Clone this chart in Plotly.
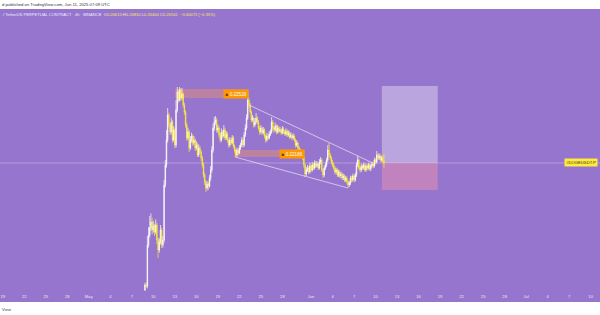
import plotly.graph_objects as go
import pandas as pd

# ---------------- data (4h candles, price) ----------------
first_open = 0.1673
close = [
0.1688,0.1685,0.1808,0.1838,0.1859,0.1877,0.1853,0.1865,0.1847,0.1868,
0.1823,0.1793,0.1817,0.1853,0.1808,0.1823,0.1988,0.2048,0.2123,0.2198,
0.2168,0.2147,0.2177,0.2123,0.2153,0.2108,0.2213,0.2267,0.2243,0.2273,
0.2249,0.2261,0.2228,0.2207,0.2168,0.2129,0.2147,0.2099,0.2123,0.2135,
0.2114,0.2123,0.2099,0.2108,0.2078,0.2099,0.2087,0.2069,0.2048,0.2018,
0.1997,0.1979,0.1991,0.1985,0.2009,0.2033,0.2093,0.2159,0.2177,0.2183,
0.2153,0.2159,0.2138,0.2123,0.2147,0.2135,0.2153,0.2129,0.2141,0.2123,
0.2108,0.2123,0.2114,0.2129,0.2105,0.2093,0.2078,0.2093,0.2084,0.2099,
0.2108,0.2123,0.2108,0.2138,0.2159,0.2189,0.2243,0.2228,0.2207,0.2183,
0.2189,0.2168,0.2177,0.2189,0.2177,0.2159,0.2147,0.2159,0.2144,0.2153,
0.2135,0.2123,0.2135,0.2129,0.2141,0.2147,0.2177,0.2159,0.2153,0.2165,
0.2147,0.2159,0.2150,0.2153,0.2144,0.2156,0.2147,0.2141,0.2150,0.2138,
0.2144,0.2132,0.2138,0.2129,0.2135,0.2123,0.2108,0.2114,0.2099,0.2093,
0.2078,0.2084,0.2069,0.2048,0.2021,0.2033,0.2039,0.2027,0.2045,0.2033,
0.2048,0.2039,0.2054,0.2045,0.2051,0.2039,0.2057,0.2063,0.2033,0.2018,
0.2039,0.2048,0.2063,0.2093,0.2078,0.2069,0.2057,0.2048,0.2039,0.2027,
0.2033,0.2018,0.2027,0.2015,0.2021,0.2009,0.2015,0.2003,0.2009,0.1997,
0.1988,0.1994,0.2009,0.2003,0.2015,0.2003,0.2018,0.2048,0.2063,0.2039,
0.2033,0.2045,0.2039,0.2048,0.2033,0.2045,0.2039,0.2048,0.2036,0.2045,
0.2051,0.2045,0.2063,0.2057,0.2078,0.2069,0.2075,0.2063,0.2069,0.20615,
0.20541]
high = [
0.1694,0.1697,0.1835,0.1862,0.1895,0.1903,0.1890,0.1880,0.1872,0.1885,
0.1875,0.1830,0.1828,0.1868,0.1860,0.1835,0.2003,0.2063,0.2153,0.2219,
0.2205,0.2175,0.2190,0.2183,0.2165,0.2160,0.2243,0.2282,0.2275,0.2282,
0.2279,0.2279,0.2266,0.2235,0.2212,0.2175,0.2160,0.2153,0.2135,0.2145,
0.2140,0.2135,0.2128,0.2120,0.2115,0.2110,0.2105,0.2093,0.2075,0.2055,
0.2025,0.2003,0.2000,0.1998,0.2018,0.2045,0.2105,0.2172,0.2192,0.2195,
0.2190,0.2170,0.2165,0.2145,0.2158,0.2152,0.2168,0.2160,0.2150,0.2147,
0.2128,0.2132,0.2130,0.2138,0.2135,0.2110,0.2098,0.2100,0.2098,0.2108,
0.2115,0.2132,0.2128,0.2147,0.2170,0.2200,0.2264,0.2250,0.2235,0.2212,
0.2198,0.2193,0.2188,0.2204,0.2195,0.2183,0.2165,0.2168,0.2163,0.2162,
0.2158,0.2140,0.2145,0.2142,0.2150,0.2155,0.2192,0.2183,0.2165,0.2175,
0.2170,0.2168,0.2165,0.2162,0.2158,0.2165,0.2162,0.2153,0.2158,0.2155,
0.2152,0.2150,0.2146,0.2143,0.2143,0.2140,0.2128,0.2122,0.2118,0.2105,
0.2098,0.2092,0.2088,0.2075,0.2053,0.2042,0.2048,0.2045,0.2055,0.2050,
0.2057,0.2054,0.2062,0.2060,0.2060,0.2055,0.2066,0.2072,0.2068,0.2038,
0.2046,0.2056,0.2070,0.2108,0.2114,0.2084,0.2075,0.2063,0.2054,0.2045,
0.2040,0.2038,0.2034,0.2032,0.2028,0.2026,0.2022,0.2020,0.2016,0.2014,
0.2002,0.2000,0.2016,0.2015,0.2022,0.2020,0.2025,0.2056,0.2075,0.2068,
0.2045,0.2052,0.2050,0.2055,0.2053,0.2052,0.2050,0.2055,0.2053,0.2052,
0.2058,0.2056,0.2070,0.2068,0.2090,0.2084,0.2083,0.2080,0.2076,0.2075,
0.2081]
low = [
0.1670,0.1680,0.1678,0.1800,0.1830,0.1850,0.1840,0.1845,0.1835,0.1840,
0.1810,0.1769,0.1785,0.1810,0.1799,0.1800,0.1815,0.1980,0.2040,0.2115,
0.2160,0.2138,0.2140,0.2115,0.2118,0.2099,0.2100,0.2205,0.2235,0.2238,
0.2240,0.2243,0.2220,0.2198,0.2160,0.2120,0.2123,0.2087,0.2093,0.2115,
0.2105,0.2108,0.2090,0.2093,0.2072,0.2072,0.2080,0.2060,0.2040,0.2010,
0.1988,0.1967,0.1972,0.1973,0.1980,0.2000,0.2025,0.2085,0.2150,0.2168,
0.2145,0.2145,0.2130,0.2115,0.2118,0.2128,0.2130,0.2122,0.2123,0.2115,
0.2100,0.2102,0.2108,0.2110,0.2099,0.2085,0.2072,0.2072,0.2078,0.2080,
0.2093,0.2102,0.2100,0.2102,0.2132,0.2153,0.2183,0.2220,0.2200,0.2175,
0.2178,0.2160,0.2162,0.2172,0.2170,0.2152,0.2138,0.2142,0.2138,0.2140,
0.2128,0.2115,0.2118,0.2122,0.2125,0.2135,0.2142,0.2152,0.2145,0.2148,
0.2140,0.2142,0.2144,0.2145,0.2138,0.2140,0.2141,0.2135,0.2136,0.2132,
0.2133,0.2126,0.2128,0.2122,0.2124,0.2117,0.2100,0.2102,0.2092,0.2085,
0.2070,0.2072,0.2062,0.2040,0.2012,0.2015,0.2027,0.2020,0.2022,0.2027,
0.2028,0.2033,0.2034,0.2039,0.2040,0.2033,0.2034,0.2050,0.2027,0.2009,
0.2012,0.2033,0.2042,0.2057,0.2072,0.2062,0.2050,0.2042,0.2032,0.2020,
0.2020,0.2012,0.2012,0.2009,0.2008,0.2003,0.2003,0.1997,0.1997,0.1990,
0.1979,0.1982,0.1988,0.1996,0.1998,0.1996,0.1998,0.2012,0.2042,0.2033,
0.2025,0.2027,0.2033,0.2034,0.2027,0.2028,0.2032,0.2034,0.2030,0.2030,
0.2040,0.2038,0.2040,0.2050,0.2052,0.2062,0.2063,0.2056,0.2058,0.2055,
0.2040]
assert len(close) == len(high) == len(low)
open_ = [first_open] + close[:-1]
times = pd.date_range("2025-05-08 20:00", periods=len(close), freq="4h")

last_price = 0.20541
tick_dates = ["2025-04-19", "2025-04-22", "2025-04-25", "2025-04-28", "2025-05-01",
              "2025-05-04", "2025-05-07", "2025-05-10", "2025-05-13", "2025-05-16",
              "2025-05-19", "2025-05-22", "2025-05-25", "2025-05-28", "2025-06-01",
              "2025-06-04", "2025-06-07", "2025-06-10", "2025-06-13", "2025-06-16",
              "2025-06-19", "2025-06-22", "2025-06-25", "2025-06-28", "2025-07-01",
              "2025-07-04", "2025-07-07", "2025-07-10"]
tick_text = ["19", "22", "25", "28", "May", "4", "7", "10", "13", "16", "19", "22", "25", "28",
             "Jun", "4", "7", "10", "13", "16", "19", "22", "25", "28", "Jul", "4", "7", "10"]

# drawings
zone_top = dict(t0="2025-05-13 00:30", t1="2025-05-23 08:00", p0=0.2249, p1=0.2276, label="0.22528")
zone_mid = dict(t0="2025-05-21 06:00", t1="2025-05-31 04:00", p0=0.2072, p1=0.2093, label="0.22186")
wedge_upper = (("2025-05-23 08:00", 0.2228), ("2025-06-09 15:00", 0.2054))
wedge_lower = (("2025-05-21 09:00", 0.2072), ("2025-06-06 04:00", 0.1979))
long_pos = dict(t0="2025-06-10 21:00", t1="2025-06-18 16:00", target=0.2285, entry=0.20541, stop=0.1973)

PURPLE = "#9575cd"
YELLOW = "#ffeb3b"
FONT = "Liberation Sans"

fig = go.Figure()
fig.add_trace(go.Candlestick(
    x=times, open=open_, high=high, low=low, close=close,
    increasing=dict(line=dict(color="#ffffff", width=0.7), fillcolor="#ffffff"),
    decreasing=dict(line=dict(color=YELLOW, width=0.7), fillcolor=YELLOW),
    whiskerwidth=0, showlegend=False, hoverinfo="skip"))

shapes = []
# price line
shapes.append(dict(type="line", xref="paper", x0=0, x1=1, yref="y", y0=last_price, y1=last_price,
                   line=dict(color="rgba(225,210,245,0.4)", width=1), layer="below"))
# zones
for z in (zone_top, zone_mid):
    shapes.append(dict(type="rect", xref="x", yref="y", x0=z["t0"], x1=z["t1"], y0=z["p0"], y1=z["p1"],
                       fillcolor="rgba(255,150,90,0.38)", line=dict(width=0), layer="below"))
# wedge
for (a, b) in (wedge_upper, wedge_lower):
    shapes.append(dict(type="line", xref="x", yref="y", x0=a[0], y0=a[1], x1=b[0], y1=b[1],
                       line=dict(color="rgba(235,230,250,0.7)", width=1)))
# long position
shapes.append(dict(type="rect", xref="x", yref="y", x0=long_pos["t0"], x1=long_pos["t1"],
                   y0=long_pos["entry"], y1=long_pos["target"],
                   fillcolor="rgba(255,255,255,0.35)", line=dict(width=0), layer="below"))
shapes.append(dict(type="rect", xref="x", yref="y", x0=long_pos["t0"], x1=long_pos["t1"],
                   y0=long_pos["stop"], y1=long_pos["entry"],
                   fillcolor="rgba(255,150,170,0.42)", line=dict(width=0), layer="below"))

annotations = []
for z in (zone_top, zone_mid):
    annotations.append(dict(xref="x", yref="y", x=z["t1"], y=(z["p0"] + z["p1"]) / 2,
                            xanchor="right", yanchor="middle", showarrow=False,
                            text="<span style='color:#6b4300'>■</span> " + z["label"],
                            font=dict(family=FONT, size=4.6, color="#ffffff"),
                            bgcolor="#ff9800", borderpad=1.6))

annotations.append(dict(xref="paper", yref="y", x=0.997, y=last_price, xanchor="right", yanchor="middle",
                        showarrow=False, text="#DOGEUSDT.P", font=dict(family=FONT, size=4.2, color="#333333"),
                        bgcolor=YELLOW, borderpad=1.2))

# header texts
def py(p):  # pixel from top -> paper y
    return (302 - p) / 293

annotations.append(dict(xref="paper", yref="paper", x=0, y=py(4.5), xanchor="left", yanchor="middle",
                        showarrow=False, text="d published on TradingView.com, Jun 11, 2025 07:09 UTC",
                        font=dict(family=FONT, size=4.2, color="#333333")))
W = "#f2ecff"
Y = "#ffe94d"
title = (f"<span style='color:{W}'>/ TetherUS PERPETUAL CONTRACT · 4h · BINANCE  "
         f"O</span><span style='color:{Y}'>0.20615 </span>"
         f"<span style='color:{W}'>H</span><span style='color:{Y}'>0.20810 </span>"
         f"<span style='color:{W}'>L</span><span style='color:{Y}'>0.20400 </span>"
         f"<span style='color:{W}'>C</span><span style='color:{Y}'>0.20541  −0.00072 (−0.35%)</span>")
annotations.append(dict(xref="paper", yref="paper", x=0.002, y=py(15), xanchor="left", yanchor="middle",
                        showarrow=False, text=title, font=dict(family=FONT, size=4.1, color=W)))
annotations.append(dict(xref="paper", yref="paper", x=0, y=py(309), xanchor="left", yanchor="middle",
                        showarrow=False, text="View", font=dict(family=FONT, size=4.2, color="#444444")))

fig.update_layout(
    width=600, height=315,
    margin=dict(l=0, r=0, t=9, b=13),
    paper_bgcolor="#ffffff", plot_bgcolor=PURPLE,
    shapes=shapes, annotations=annotations,
    xaxis=dict(range=["2025-04-18 14:46", "2025-07-11 07:12"], rangeslider=dict(visible=False),
               tickvals=tick_dates, ticktext=tick_text, ticklabelposition="inside",
               tickfont=dict(family=FONT, size=4.2, color="#ece4fa"),
               showgrid=False, zeroline=False, showline=False, ticks=""),
    yaxis=dict(range=[0.1637, 0.2516], visible=False, showgrid=False, zeroline=False),
    font=dict(family=FONT),
)

fig.write_html("out.html")
